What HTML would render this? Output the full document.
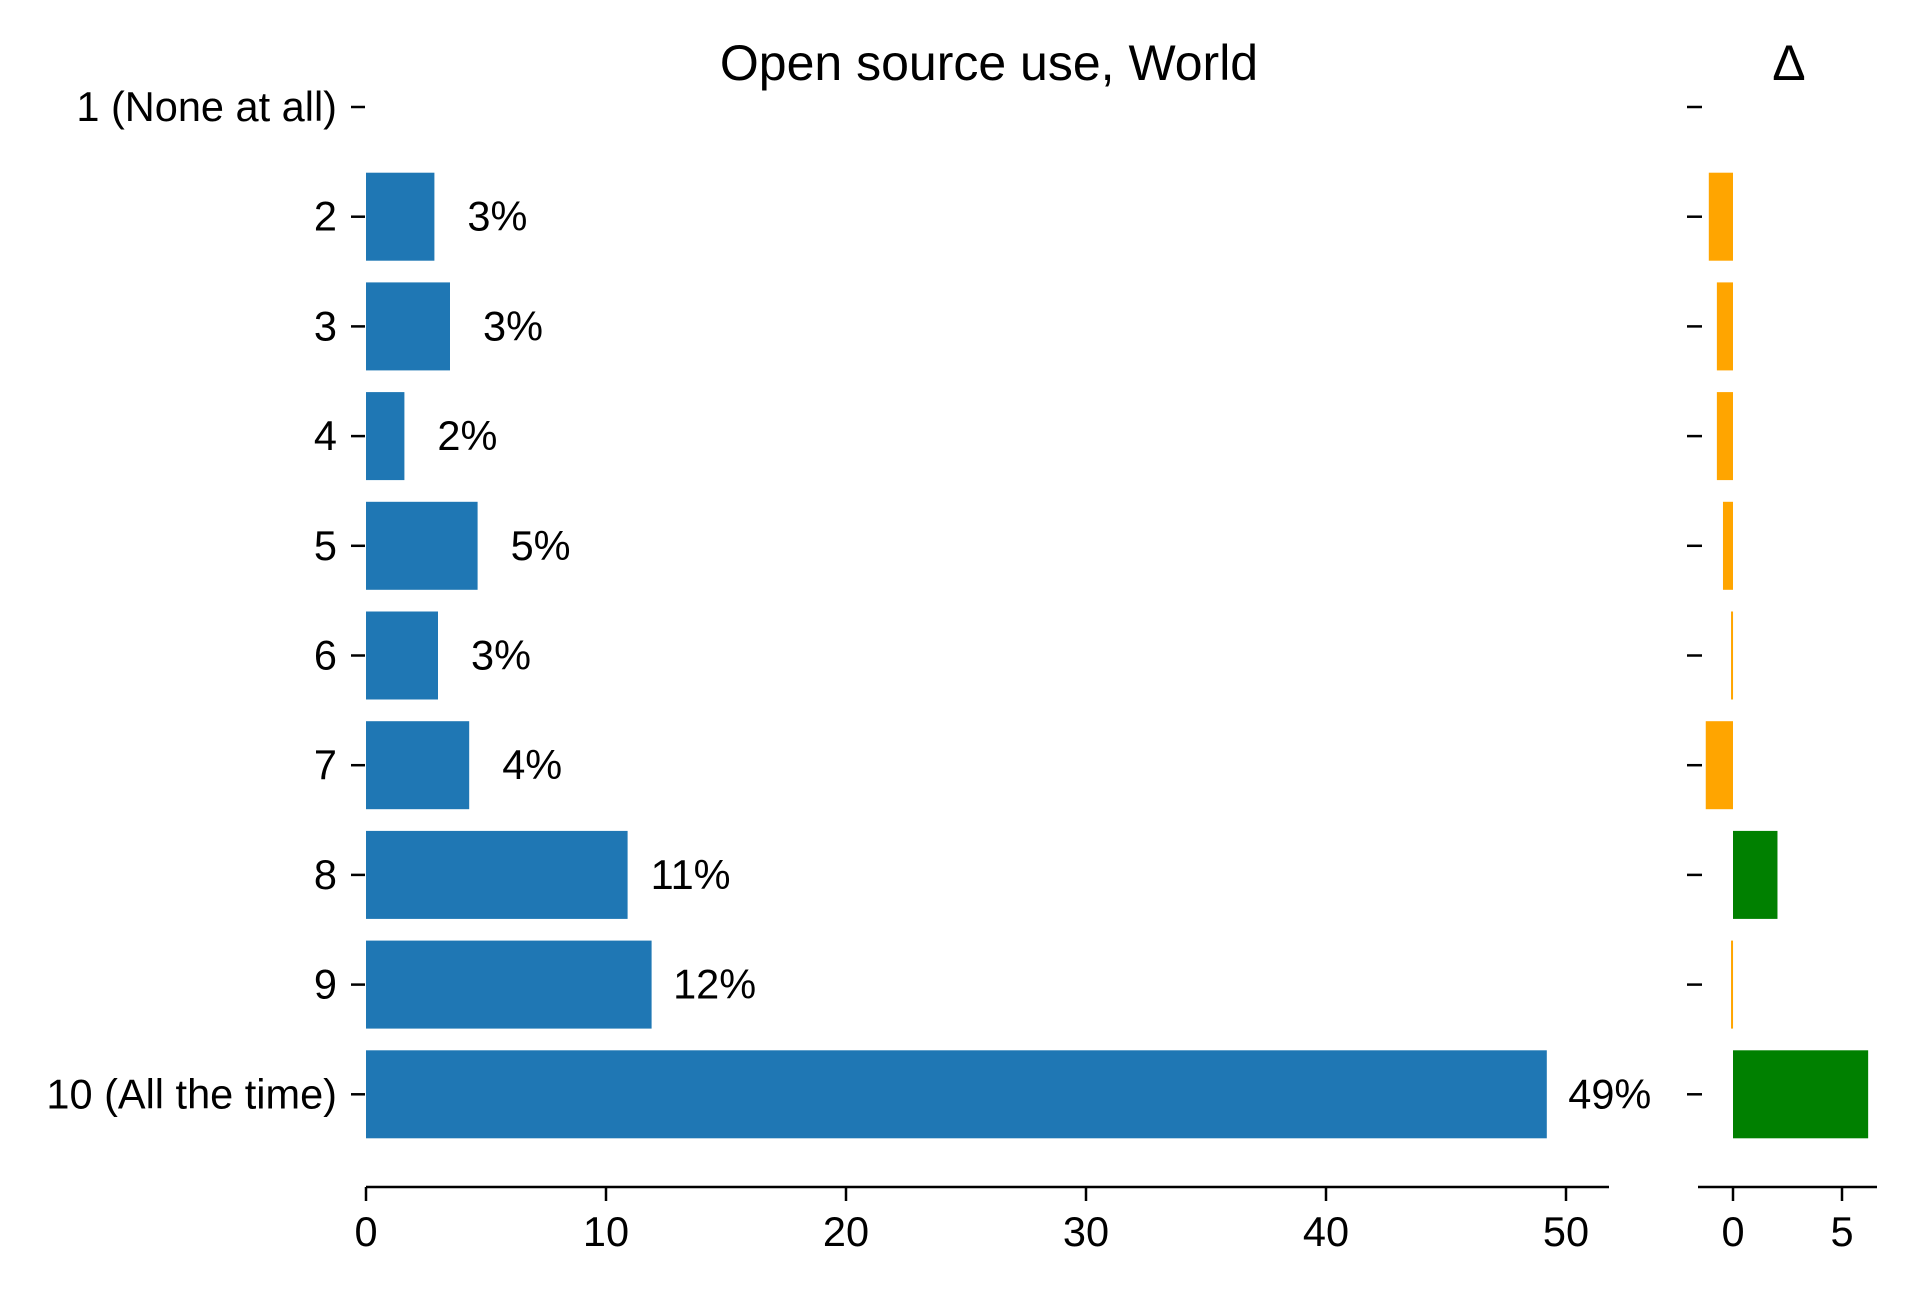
<!DOCTYPE html>
<html><head><meta charset="utf-8"><style>
html,body{margin:0;padding:0;background:#fff;}
svg{display:block;font-family:"Liberation Sans",Arial,sans-serif;}
</style></head><body>
<svg id="chart" width="1920" height="1300" viewBox="0 0 1920 1300">
<text x="989" y="80" font-size="50" text-anchor="middle">Open source use, World</text>
<text x="1789" y="80" font-size="50" text-anchor="middle">Δ</text>
<g id="main"></g>
<g id="delta"></g>
</svg>
<script>
const categories = ["1 (None at all)","2","3","4","5","6","7","8","9","10 (All the time)"];
const values = [0, 2.85, 3.5, 1.6, 4.65, 3.0, 4.3, 10.9, 11.9, 49.2];
const labels = ["", "3%", "3%", "2%", "5%", "3%", "4%", "11%", "12%", "49%"];
const deltas = [0, -1.11, -0.74, -0.74, -0.46, -0.09, -1.25, 2.04, -0.09, 6.2];
const mainTicks = [0, 10, 20, 30, 40, 50];
const deltaTicks = [0, 5];

const NS = "http://www.w3.org/2000/svg";
function mk(tag, attrs, parent, text) {
  const e = document.createElementNS(NS, tag);
  for (const k in attrs) e.setAttribute(k, attrs[k]);
  if (text !== undefined) e.textContent = text;
  parent.appendChild(e);
  return e;
}
const rowY = i => 107 + i * 109.7;
const barH = 88;
const xMain = v => 366 + v * 24.0;
const xDelta = v => 1733 + v * 21.8;
const axisY = 1187;
const main = document.getElementById('main');
const delta = document.getElementById('delta');

categories.forEach((c, i) => {
  const y = rowY(i);
  const tk = mk('line', {x1: 351, x2: 365, y1: y, y2: y, stroke: '#000', 'stroke-width': 2.5}, main);
  
  
  const tl = mk('text', {x: 337, y: y + 14, 'font-size': 41.5, 'text-anchor': 'end'}, main, c);
  
  
  if (values[i] > 0) {
    const b = mk('rect', {x: xMain(0), y: y - barH / 2, width: xMain(values[i]) - xMain(0), height: barH, fill: '#1f77b4'}, main);
    
    
    const vl = mk('text', {x: xMain(values[i]) + 63, y: y + 14, 'font-size': 41.5, 'text-anchor': 'middle'}, main, labels[i]);
    
    
  }
  const dt = mk('line', {x1: 1687, x2: 1702, y1: y, y2: y, stroke: '#000', 'stroke-width': 2.5}, delta);
  
  
  if (deltas[i] !== 0) {
    const x0 = xDelta(Math.min(0, deltas[i])), x1 = xDelta(Math.max(0, deltas[i]));
    const db = mk('rect', {x: x0, y: y - barH / 2, width: Math.max(2, x1 - x0), height: barH, fill: deltas[i] > 0 ? '#008000' : '#ffa500'}, delta);
    
    
  }
});

const ax = mk('line', {x1: 366, x2: 1609, y1: axisY, y2: axisY, stroke: '#000', 'stroke-width': 2.5}, main);


mainTicks.forEach(t => {
  const l = mk('line', {x1: xMain(t), x2: xMain(t), y1: axisY, y2: axisY + 14, stroke: '#000', 'stroke-width': 2.5}, main);
  
  
  const tx = mk('text', {x: xMain(t), y: axisY + 59, 'font-size': 41.5, 'text-anchor': 'middle'}, main, String(t));
  
  
});
const dax = mk('line', {x1: 1698, x2: 1877, y1: axisY, y2: axisY, stroke: '#000', 'stroke-width': 2.5}, delta);


deltaTicks.forEach(t => {
  const l = mk('line', {x1: xDelta(t), x2: xDelta(t), y1: axisY, y2: axisY + 14, stroke: '#000', 'stroke-width': 2.5}, delta);
  
  
  const tx = mk('text', {x: xDelta(t), y: axisY + 59, 'font-size': 41.5, 'text-anchor': 'middle'}, delta, String(t));
  
  
});
</script>
</body></html>
